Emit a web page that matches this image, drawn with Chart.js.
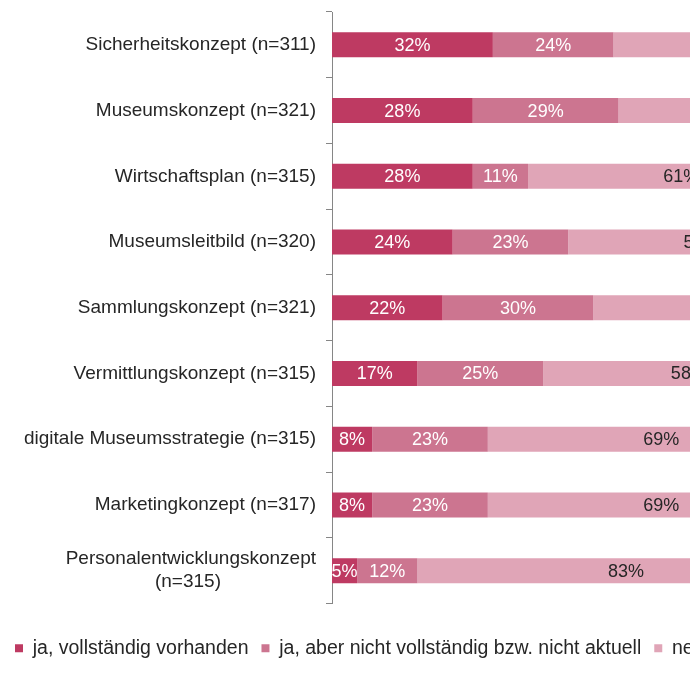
<!DOCTYPE html>
<html>
<head>
<meta charset="utf-8">
<script src="https://cdn.jsdelivr.net/npm/chart.js@4/dist/chart.umd.min.js"></script>
<style>
  html, body { margin: 0; padding: 0; background: #fff; overflow: hidden; width: 690px; height: 690px; }
  #wrap { position: absolute; left: 0; top: 0; width: 900px; height: 690px; }
</style>
</head>
<body>
<div id="wrap"><canvas id="c" width="900" height="690"></canvas></div>
<script>
const categories = [
  "Sicherheitskonzept (n=311)",
  "Museumskonzept (n=321)",
  "Wirtschaftsplan (n=315)",
  "Museumsleitbild (n=320)",
  "Sammlungskonzept (n=321)",
  "Vermittlungskonzept (n=315)",
  "digitale Museumsstrategie (n=315)",
  "Marketingkonzept (n=317)",
  ["Personalentwicklungskonzept", "(n=315)\u00a0\u00a0\u00a0\u00a0\u00a0\u00a0\u00a0\u00a0\u00a0\u00a0\u00a0\u00a0\u00a0\u00a0\u00a0\u00a0\u00a0\u00a0"]
];
const seriesNames = [
  "ja, vollständig vorhanden",
  "ja, aber nicht vollständig bzw. nicht aktuell",
  "nein, nicht vorhanden"
];
const jaVollstaendig = [32, 28, 28, 24, 22, 17, 8, 8, 5];
const jaTeilweise   = [24, 29, 11, 23, 30, 25, 23, 23, 12];
const nein          = [44, 43, 61, 53, 48, 58, 69, 69, 83];
const seriesColors = ["#be3a62", "#cc7590", "#e0a5b7"];
const labelColors = ["#ffffff", "#ffffff", "#262626"];

const FONT = "'Liberation Sans', Arial, sans-serif";

const segmentLabels = {
  id: 'segmentLabels',
  afterDatasetsDraw(chart) {
    const ctx = chart.ctx;
    ctx.save();
    ctx.font = "18px " + FONT;
    ctx.textAlign = 'center';
    ctx.textBaseline = 'middle';
    chart.data.datasets.forEach((ds, di) => {
      const meta = chart.getDatasetMeta(di);
      meta.data.forEach((bar, i) => {
        const p = bar.getProps(['x', 'y', 'base'], true);
        const cx = (p.x + p.base) / 2;
        ctx.fillStyle = labelColors[di];
        ctx.fillText(ds.data[i] + '%', cx, p.y + 1);
      });
    });
    ctx.restore();
  }
};

new Chart(document.getElementById('c'), {
  type: 'bar',
  data: {
    labels: categories,
    datasets: [
      { label: seriesNames[0], data: jaVollstaendig, backgroundColor: seriesColors[0] },
      { label: seriesNames[1], data: jaTeilweise, backgroundColor: seriesColors[1] },
      { label: seriesNames[2], data: nein, backgroundColor: seriesColors[2] }
    ]
  },
  options: {
    indexAxis: 'y',
    responsive: false,
    animation: false,
    devicePixelRatio: 1,
    categoryPercentage: 1,
    barPercentage: 0.38,
    layout: { padding: { left: 2, right: 0, top: 12, bottom: 22 } },
    plugins: {
      legend: {
        position: 'bottom',
        align: 'start',
        labels: {
          boxWidth: 8,
          boxHeight: 8,
          padding: 13,
          color: '#262626',
          font: { family: FONT, size: 19.5 }
        }
      },
      tooltip: { enabled: false }
    },
    scales: {
      x: {
        stacked: true,
        min: 0,
        max: 113,
        display: true,
        grid: { display: false },
        border: { display: false },
        ticks: { display: false },
        afterFit(scale) { scale.height = 22; scale.paddingLeft = 0; scale.paddingRight = 0; }
      },
      y: {
        stacked: true,
        grid: { drawOnChartArea: false, drawTicks: true, tickLength: 6, color: '#868686', offset: true },
        border: { display: true, color: '#868686', width: 1 },
        ticks: { color: '#262626', padding: 10, font: { family: FONT, size: 19 } },
        afterFit(scale) { scale.width = 330; scale.paddingTop = 0; scale.paddingBottom = 0; }
      }
    }
  },
  plugins: [segmentLabels]
});
</script>
</body>
</html>
